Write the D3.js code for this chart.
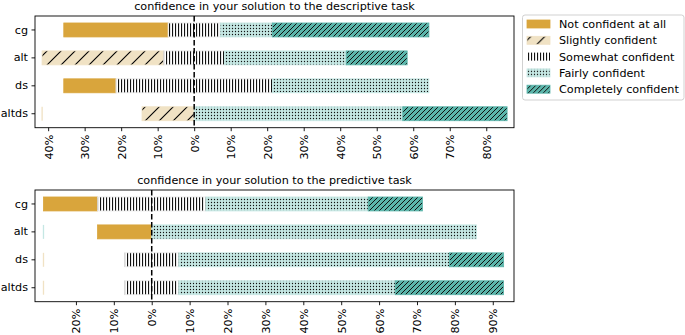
<!DOCTYPE html>
<html>
<head>
<meta charset="utf-8">
<script src="https://cdn.jsdelivr.net/npm/d3@7"></script>
<style>
    body { margin: 0; background: #fff; }
    svg { display: block; font-family: "DejaVu Sans", sans-serif; }
</style>
</head>
<body>
<div id="chart"></div>
<script>
'use strict';

// categories (rows) and answer levels
const categories = ['cg', 'alt', 'ds', 'altds'];
const levels = ['Not confident at all', 'Slightly confident', 'Somewhat confident', 'Fairly confident', 'Completely confident'];

// share of answers per level, in percent (rows follow categories)
const descriptiveValues = [
    [28.57, 0, 14.29, 14.29, 42.86],
    [0, 33.33, 16.67, 33.33, 16.67],
    [14.29, 0, 42.86, 42.86, 0],
    [0, 14.29, 0, 57.14, 28.57]
];
const predictiveValues = [
    [14.29, 0, 28.57, 42.86, 14.29],
    [14.29, 0, 0, 85.71, 0],
    [0, 0, 14.29, 71.43, 14.29],
    [0, 0, 14.29, 57.14, 28.57]
];
// empty levels that still leave a thin mark at the far left
const descriptiveEmpty = [['altds', 1]];
const predictiveEmpty = [['alt', 3], ['ds', 1], ['altds', 1]];

const descriptiveTicks = [-40, -30, -20, -10, 0, 10, 20, 30, 40, 50, 60, 70, 80];
const predictiveTicks = [-20, -10, 0, 10, 20, 30, 40, 50, 60, 70, 80, 90];

const fills = ['#d9a53c', '#f0e2c4', '#ffffff', '#c5e7e3', '#5bb5aa'];
const fontSize = 11.2;

const W = 685, H = 335;
const svg = d3.select('#chart').append('svg').attr('width', W).attr('height', H);
const defs = svg.append('defs');

function makePattern(id, size, bg, draw) {
    let p = defs.append('pattern').attr('id', id)
        .attr('patternUnits', 'userSpaceOnUse')
        .attr('width', size).attr('height', size);
    p.append('rect').attr('width', size).attr('height', size).attr('fill', bg);
    draw(p, size);
}

makePattern('h0', 4, fills[0], function () {});
makePattern('h1', 14, fills[1], function (p, s) {
    p.append('path').attr('d', 'M0,' + s + 'L' + s + ',0M-3,3L3,-3M' + (s - 3) + ',' + (s + 3) + 'L' + (s + 3) + ',' + (s - 3))
        .attr('stroke', '#000').attr('stroke-width', 1.1);
});
makePattern('h2', 3, fills[2], function (p, s) {
    p.append('rect').attr('x', 1).attr('width', 1.1).attr('height', s).attr('fill', '#111');
});
makePattern('h3', 3, fills[3], function (p) {
    p.append('circle').attr('cx', 1.5).attr('cy', 1.5).attr('r', 0.65).attr('fill', '#111');
});
makePattern('h4', 5, fills[4], function (p, s) {
    p.append('path').attr('d', 'M0,' + s + 'L' + s + ',0M-2,2L2,-2M' + (s - 2) + ',' + (s + 2) + 'L' + (s + 2) + ',' + (s - 2))
        .attr('stroke', '#111').attr('stroke-width', 1);
});

function drawPanel(values, empty, ticks, domain, top, bottom, title) {
    let left = 35, right = 514;
    let x = d3.scaleLinear().domain(domain).range([left, right]);
    let y = d3.scaleBand().domain(categories).range([top, bottom])
        .paddingInner(0.5).paddingOuter(0.25);

    let g = svg.append('g');

    // segments: the middle level is split around zero
    let rows = values.map(function (v, i) {
        let start = -(v[0] + v[1] + v[2] / 2);
        let segs = [];
        let acc = start;
        v.forEach(function (w, k) {
            segs.push({cat: categories[i], level: k, x0: acc, x1: acc + w});
            acc += w;
        });
        return {cat: categories[i], start: start, segs: segs};
    });
    let minStart = d3.min(rows, function (r) { return r.start; });

    let segs = [];
    rows.forEach(function (r) {
        r.segs.forEach(function (s) { if (s.x1 - s.x0 > 0) segs.push(s); });
    });

    g.selectAll('.seg').data(segs).enter().append('rect')
        .attr('class', 'seg')
        .attr('x', function (d) { return x(d.x0); })
        .attr('width', function (d) { return x(d.x1) - x(d.x0); })
        .attr('y', function (d) { return y(d.cat); })
        .attr('height', y.bandwidth())
        .attr('fill', function (d) { return 'url(#h' + d.level + ')'; })
        .attr('stroke', function (d) { return d.level === 2 ? '#e8e8e8' : fills[d.level]; })
        .attr('stroke-width', 0.8);

    g.selectAll('.empty').data(empty).enter().append('rect')
        .attr('x', x(minStart) - 0.6)
        .attr('width', 1.3)
        .attr('y', function (d) { return y(d[0]); })
        .attr('height', y.bandwidth())
        .attr('fill', function (d) { return fills[d[1]]; });

    // zero line
    g.append('line')
        .attr('x1', x(0)).attr('x2', x(0))
        .attr('y1', top).attr('y2', bottom)
        .attr('stroke', '#000').attr('stroke-width', 1.5)
        .attr('stroke-dasharray', '5.5,2.5');

    // frame
    g.append('rect')
        .attr('x', left).attr('y', top)
        .attr('width', right - left).attr('height', bottom - top)
        .attr('fill', 'none').attr('stroke', '#000').attr('stroke-width', 0.9);

    // y axis
    let ya = g.append('g').attr('transform', 'translate(' + left + ',0)')
        .call(d3.axisLeft(y).tickSize(3.5).tickPadding(3.5));
    ya.select('.domain').remove();
    ya.selectAll('text').attr('font-size', fontSize).attr('fill', '#000')
        .attr('font-family', '"DejaVu Sans", sans-serif');
    ya.selectAll('line').attr('stroke-width', 0.9);

    // x axis, labels rotated
    let xa = g.append('g').attr('transform', 'translate(0,' + bottom + ')')
        .call(d3.axisBottom(x).tickValues(ticks).tickSize(3.5)
            .tickFormat(function (d) { return Math.abs(d) + '%'; }));
    xa.select('.domain').remove();
    xa.selectAll('line').attr('stroke-width', 0.9);
    xa.selectAll('text')
        .attr('font-size', fontSize).attr('fill', '#000')
        .attr('font-family', '"DejaVu Sans", sans-serif')
        .attr('transform', 'rotate(-90)')
        .attr('x', -7).attr('y', 0).attr('dy', '0.35em')
        .style('text-anchor', 'end');

    svg.append('text')
        .attr('x', (left + right) / 2).attr('y', top - 6)
        .attr('text-anchor', 'middle').attr('font-size', fontSize)
        .text(title);
}

drawPanel(descriptiveValues, descriptiveEmpty, descriptiveTicks, [-43.6, 87.6], 16, 127.7,
    'confidence in your solution to the descriptive task');
drawPanel(predictiveValues, predictiveEmpty, predictiveTicks, [-30.8, 95.6], 190, 301.7,
    'confidence in your solution to the predictive task');

// legend
let legend = svg.append('g');
legend.append('rect')
    .attr('x', 522.5).attr('y', 15).attr('width', 161.5).attr('height', 85)
    .attr('rx', 2.5).attr('fill', '#fff').attr('stroke', '#cccccc').attr('stroke-width', 0.9);
let items = legend.selectAll('.item').data(levels).enter().append('g')
    .attr('transform', function (d, i) { return 'translate(527,' + (24 + i * 16.3) + ')'; });
items.append('rect')
    .attr('x', 0).attr('y', -4).attr('width', 23).attr('height', 8)
    .attr('fill', function (d, i) { return 'url(#h' + i + ')'; })
    .attr('stroke', function (d, i) { return i === 2 ? 'none' : fills[i]; })
    .attr('stroke-width', 0.8);
items.append('text')
    .attr('x', 32).attr('y', 0).attr('dy', '0.35em')
    .attr('font-size', fontSize)
    .text(function (d) { return d; });
</script>
</body>
</html>
